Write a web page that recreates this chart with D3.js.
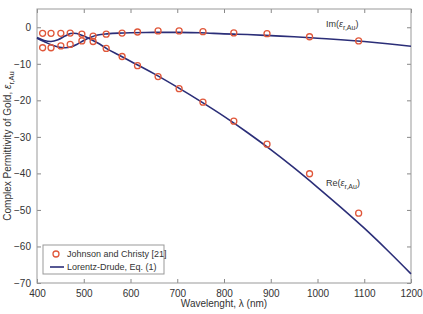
<!DOCTYPE html>
<html>
<head>
<meta charset="utf-8">
<script src="https://cdn.jsdelivr.net/npm/d3@7"></script>
<style>
  body { margin: 0; background: #fff; }
  text { font-family: "Liberation Sans", Arial, sans-serif; fill: #333; }
</style>
</head>
<body>
<div id="chart"></div>
<script>
// data
const jcWavelength = [412, 430, 451, 471, 496, 520, 548, 582, 615, 659, 704, 755, 821, 892, 983, 1088];
const jcRe = [-1.65, -1.65, -1.65, -1.6, -1.9, -3.9, -5.8, -8.0, -10.5, -13.5, -16.8, -20.5, -25.7, -32.0, -40.1, -50.9];
const jcIm = [-5.6, -5.6, -5.1, -4.7, -3.75, -2.4, -1.9, -1.6, -1.3, -1.0, -1.0, -1.2, -1.55, -1.75, -2.6, -3.75];

const ldWavelength = [400, 415, 430, 445, 460, 472, 485, 500, 515, 530, 550, 575, 600, 650, 700, 750, 800, 850, 900, 950, 1000, 1050, 1100, 1150, 1200];
const ldRe = [-2.8, -3.6, -3.9, -3.4, -2.4, -1.7, -1.7, -2.4, -3.3, -4.3, -5.9, -7.6, -9.3, -12.7, -16.4, -20.3, -24.4, -28.8, -33.5, -38.5, -43.8, -49.3, -55.0, -61.1, -67.5];
const ldIm = [-3.0, -3.9, -4.8, -5.4, -5.6, -5.4, -4.7, -3.6, -2.7, -2.1, -1.8, -1.6, -1.5, -1.4, -1.4, -1.5, -1.8, -2.0, -2.3, -2.6, -3.0, -3.4, -3.9, -4.5, -5.2];

const xTicks = [400, 500, 600, 700, 800, 900, 1000, 1100, 1200];
const yTicks = [0, -10, -20, -30, -40, -50, -60, -70];

const svgWidth = 423;
const svgHeight = 314;
const margin = { top: 9, right: 12, bottom: 31, left: 37 };
const width = svgWidth - margin.left - margin.right;
const height = svgHeight - margin.top - margin.bottom;

const svg = d3.select("#chart").append("svg")
  .attr("width", svgWidth)
  .attr("height", svgHeight);

const g = svg.append("g")
  .attr("transform", `translate(${margin.left}, ${margin.top})`);

const x = d3.scaleLinear().domain([400, 1200]).range([0, width]);
const y = d3.scaleLinear().domain([-70, 5]).range([height, 0]);

// axes, ticks pointing inward like matlab
const axisStyle = sel => {
  sel.select(".domain").remove();
  sel.selectAll("line").attr("stroke", "#888");
  sel.selectAll("text").style("font-size", "10px").attr("fill", "#444");
};

g.append("g")
  .attr("transform", `translate(0, ${height})`)
  .call(d3.axisBottom(x).tickValues(xTicks).tickFormat(d3.format("d")).tickSizeInner(-4).tickSizeOuter(0).tickPadding(7))
  .call(axisStyle);
g.append("g")
  .call(d3.axisTop(x).tickValues(xTicks).tickSizeInner(-4).tickSizeOuter(0).tickFormat(""))
  .call(axisStyle);
g.append("g")
  .call(d3.axisLeft(y).tickValues(yTicks).tickFormat(d3.format("d")).tickSizeInner(-4).tickSizeOuter(0).tickPadding(6))
  .call(axisStyle);
g.append("g")
  .attr("transform", `translate(${width}, 0)`)
  .call(d3.axisRight(y).tickValues(yTicks).tickSizeInner(-4).tickSizeOuter(0).tickFormat(""))
  .call(axisStyle);

g.append("rect")
  .attr("width", width).attr("height", height)
  .attr("fill", "none").attr("stroke", "#999").attr("stroke-width", 1);

// curves
const line = d3.line().curve(d3.curveCatmullRom);
const lineColor = "#2b2e78";
[ldRe, ldIm].forEach(vals => {
  g.append("path")
    .datum(ldWavelength.map((w, i) => [x(w), y(vals[i])]))
    .attr("d", line)
    .attr("fill", "none")
    .attr("stroke", lineColor)
    .attr("stroke-width", 1.6);
});

// data points
const pointColor = "#e0573a";
[jcRe, jcIm].forEach(vals => {
  g.selectAll(null)
    .data(jcWavelength.map((w, i) => [w, vals[i]]))
    .enter()
    .append("circle")
    .attr("cx", d => x(d[0]))
    .attr("cy", d => y(d[1]))
    .attr("r", 3)
    .attr("fill", "none")
    .attr("stroke", pointColor)
    .attr("stroke-width", 1.3);
});

// curve labels
function epsLabel(parent, px, py, prefix) {
  const t = parent.append("text")
    .attr("x", px).attr("y", py)
    .style("font-size", "9px");
  t.append("tspan").text(prefix + "(");
  t.append("tspan").text("\u03b5").style("font-style", "italic");
  t.append("tspan").text("r,Au").attr("dy", 3).style("font-size", "7px");
  t.append("tspan").text(")").attr("dy", -3);
}
epsLabel(svg, 326, 27, "Im");
epsLabel(svg, 326, 186, "Re");

// legend
const legend = svg.append("g").attr("transform", "translate(43, 245)");
legend.append("rect")
  .attr("width", 121).attr("height", 29)
  .attr("fill", "#fff").attr("stroke", "#999");
legend.append("circle")
  .attr("cx", 13).attr("cy", 9).attr("r", 3)
  .attr("fill", "none").attr("stroke", pointColor).attr("stroke-width", 1.3);
legend.append("text").attr("x", 24).attr("y", 12)
  .style("font-size", "9px").text("Johnson and Christy [21]");
legend.append("line")
  .attr("x1", 7).attr("x2", 21).attr("y1", 22).attr("y2", 22)
  .attr("stroke", lineColor).attr("stroke-width", 1.6);
legend.append("text").attr("x", 24).attr("y", 25)
  .style("font-size", "9px").text("Lorentz-Drude, Eq. (1)");

// axis titles
svg.append("text")
  .attr("x", margin.left + width / 2).attr("y", 307)
  .attr("text-anchor", "middle")
  .style("font-size", "10px")
  .text("Wavelenght, \u03bb (nm)");

const yTitle = svg.append("text")
  .attr("transform", `translate(11, ${margin.top + height / 2}) rotate(-90)`)
  .attr("text-anchor", "middle")
  .style("font-size", "10px");
yTitle.append("tspan").text("Complex Permittivity of Gold, ");
yTitle.append("tspan").text("\u03b5").style("font-style", "italic");
yTitle.append("tspan").text("r,Au").attr("dy", 3).style("font-size", "7.5px");
</script>
</body>
</html>
